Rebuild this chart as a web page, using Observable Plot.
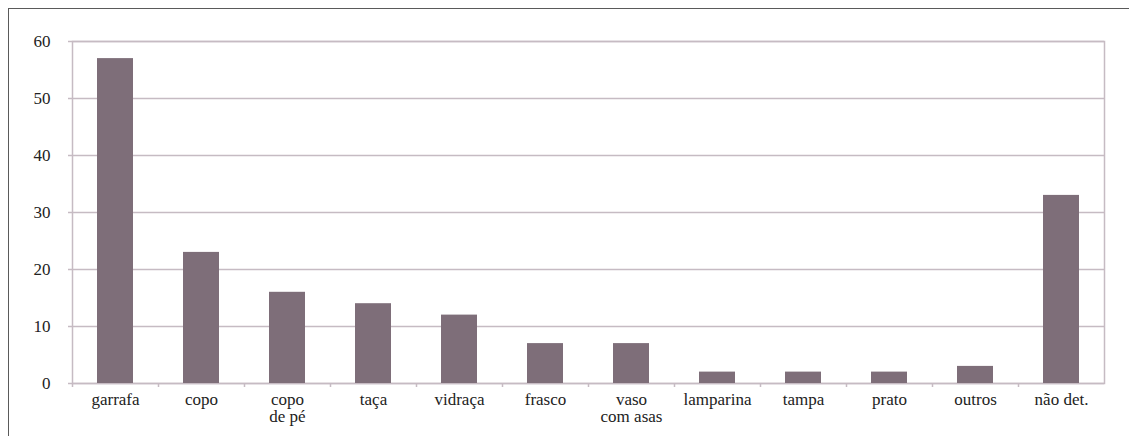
<!DOCTYPE html>
<html>
<head>
<meta charset="utf-8">
<script src="https://cdn.jsdelivr.net/npm/d3@7"></script>
<script src="https://cdn.jsdelivr.net/npm/@observablehq/plot@0.6"></script>
<style>
  html, body { margin: 0; padding: 0; background: #fff; }
  #wrap { position: relative; width: 1129px; height: 436px; overflow: hidden; }
  #border { position: absolute; left: 8px; top: 8px; width: 1200px; height: 500px;
            border-top: 1px solid #5a5a5a; border-left: 1px solid #5a5a5a; pointer-events: none; }
  svg { display: block; }
</style>
</head>
<body>
<div id="wrap"><div id="border"></div></div>
<script>
const categories = ["garrafa", "copo", "copo\nde pé", "taça", "vidraça", "frasco", "vaso\ncom asas", "lamparina", "tampa", "prato", "outros", "não det."];
const counts = [57, 23, 16, 14, 12, 7, 7, 2, 2, 2, 3, 33];
const yTicks = [0, 10, 20, 30, 40, 50, 60];

const data = categories.map((c, i) => ({category: c, count: counts[i]}));

const gridColor = "#c6bbc3";
const serif = "Liberation Serif, DejaVu Serif, serif";

const chart = Plot.plot({
  width: 1129,
  height: 436,
  marginLeft: 72,
  marginRight: 25,
  marginTop: 41,
  marginBottom: 53,
  style: {color: "#222", background: "transparent", fontFamily: serif, fontSize: "17px"},
  x: {domain: categories, paddingInner: 0.58, paddingOuter: 0.29, label: null},
  y: {domain: [0, 60], label: null},
  marks: [
    Plot.gridY(yTicks, {stroke: gridColor, strokeOpacity: 1, strokeWidth: 1.5}),
    Plot.frame({stroke: gridColor, strokeWidth: 1.5}),
    Plot.barY(data, {x: "category", y: "count", fill: "#7e6e79"}),
    Plot.axisY(yTicks, {tickSize: 4, tickPadding: 18, stroke: gridColor, strokeWidth: 1.5, fill: "#222", label: null, fontSize: 17}),
    Plot.axisX({text: null, tickSize: 4, dx: -43, stroke: gridColor, strokeWidth: 1.5, label: null}),
    Plot.axisX({tickSize: 0, tickPadding: 9, fill: "#222", lineHeight: 1.0, label: null, fontSize: 17})
  ]
});
chart.querySelectorAll("text, g").forEach(el => { el.setAttribute("font-family", serif); el.style.fontFamily = serif; });
chart.querySelectorAll("text").forEach(el => el.setAttribute("font-size", "17"));
document.getElementById("wrap").prepend(chart);
</script>
</body>
</html>
